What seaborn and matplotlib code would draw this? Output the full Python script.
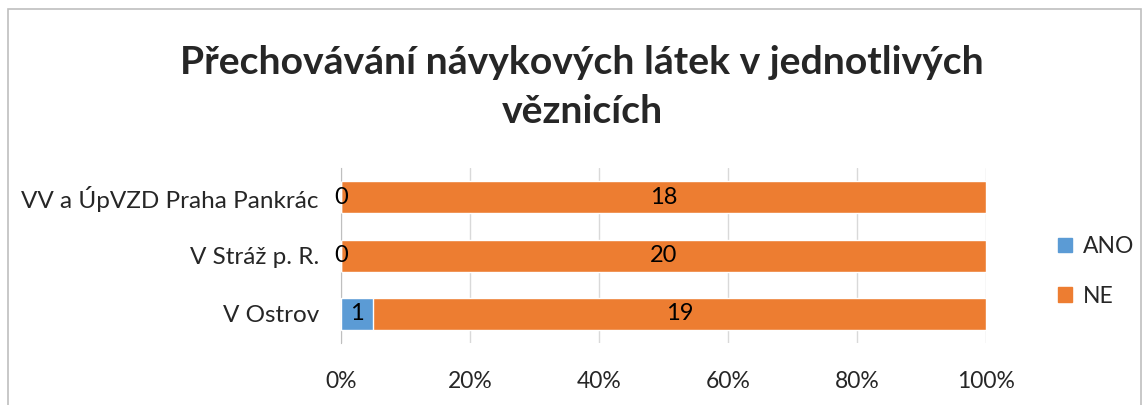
import matplotlib
matplotlib.use("Agg")
import matplotlib.pyplot as plt
import seaborn as sns
import pandas as pd
from matplotlib.patches import Rectangle

# data
categories = ["VV a ÚpVZD Praha Pankrác", "V Stráž p. R.", "V Ostrov"]
ano = [0, 0, 1]
ne = [18, 20, 19]

sns.set_style("white")
plt.rcParams["font.family"] = ["Lato", "DejaVu Sans"]

df = pd.DataFrame({"kat": categories, "ANO": ano, "NE": ne})
df["total"] = df["ANO"] + df["NE"]
df["ano_pct"] = df["ANO"] / df["total"] * 100
df["vse_pct"] = 100.0

blue = "#5B9BD5"
orange = "#ED7D31"

fig = plt.figure(figsize=(11.46, 4.05), dpi=100)
ax = fig.add_axes([0.2976, 0.153, 0.5628, 0.432])

sns.barplot(data=df, x="vse_pct", y="kat", color=orange, width=0.55,
            orient="h", ax=ax, saturation=1, zorder=2)
sns.barplot(data=df, x="ano_pct", y="kat", color=blue, width=0.55,
            orient="h", ax=ax, saturation=1, zorder=3)

# value labels
for i, row in df.iterrows():
    ax.text(row["ano_pct"] / 2, i, str(row["ANO"]), ha="center", va="center",
            fontsize=17, color="black", zorder=5)
    ax.text((row["ano_pct"] + 100) / 2, i, str(row["NE"]), ha="center",
            va="center", fontsize=17, color="black", zorder=5)

ax.set_xlim(0, 100)
ax.set_ylim(2.5, -0.5)
ax.set_xticks([0, 20, 40, 60, 80, 100])
ax.set_xticklabels(["0%", "20%", "40%", "60%", "80%", "100%"])
ax.xaxis.grid(True, color="#D9D9D9", linewidth=1, zorder=0)
ax.set_axisbelow(True)
ax.tick_params(axis="x", labelsize=16.5, pad=20, length=0)
ax.tick_params(axis="y", labelsize=17.5, pad=16, length=0)
ax.set_xlabel("")
ax.set_ylabel("")
for s in ["top", "right", "bottom"]:
    ax.spines[s].set_visible(False)
ax.spines["left"].set_color("#BFBFBF")

fig.text(0.508, 0.785, "Přechovávání návykových látek v jednotlivých\nvěznicích",
         ha="center", va="center", fontsize=28.2, fontweight="bold",
         linespacing=1.5)

handles = [Rectangle((0, 0), 1, 1, color=blue), Rectangle((0, 0), 1, 1, color=orange)]
fig.legend(handles, ["ANO", "NE"], loc="center left", bbox_to_anchor=(0.905, 0.33),
           frameon=False, fontsize=16.5, handlelength=0.6, handleheight=0.6,
           labelspacing=1.25, handletextpad=0.5)

# outer frame
fig.patches.append(Rectangle((8 / 1146, -0.1), 1133 / 1146, 1.1 - 9 / 405,
                             transform=fig.transFigure, fill=False,
                             edgecolor="#BFBFBF", linewidth=1.2))

fig.savefig("out.png", dpi=100)
